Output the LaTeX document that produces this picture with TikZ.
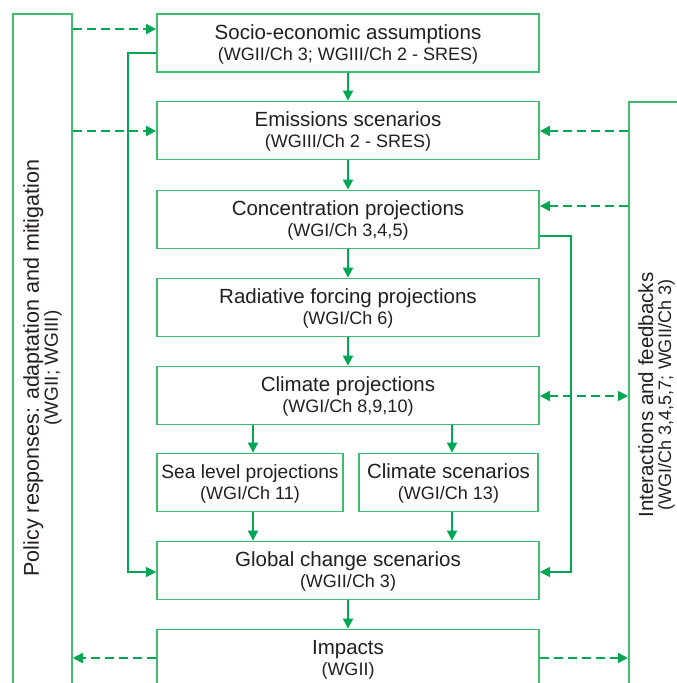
\documentclass[tikz,border=0pt]{standalone}
\usepackage{fontspec}
\setmainfont{Liberation Sans}
\usetikzlibrary{arrows.meta}
\definecolor{boxgreen}{RGB}{64,186,112}
\definecolor{arrgreen}{RGB}{0,166,81}
\definecolor{txt}{RGB}{35,31,32}
\newcommand{\titlesz}{\fontsize{20.5}{21}\selectfont}
\newcommand{\subsz}{\fontsize{18}{21}\selectfont}
\newcommand{\tstrut}{\rule{0pt}{17pt}}
\tikzset{
  box/.style={draw=boxgreen, line width=1.8pt, text=txt, align=center, inner sep=0pt,
    minimum height=58pt, font=\titlesz},
  mainbox/.style={box, minimum width=382pt},
  sidebox/.style={draw=boxgreen, line width=1.8pt, anchor=north west, inner sep=0pt},
  sidetxt/.style={text=txt, align=center, rotate=90, inner sep=0pt},
  arr/.style={draw=arrgreen, line width=1.8pt, -{Triangle[length=10pt,width=10pt]}},
  darr/.style={arr, dash pattern=on 9pt off 5pt},
  dboth/.style={darr, {Triangle[length=10pt,width=10pt]}-{Triangle[length=10pt,width=10pt]}}
}
\begin{document}
\begin{tikzpicture}[x=1pt,y=-1pt]
\clip (0,0) rectangle (677,683);
\fill[white] (0,0) rectangle (677,683);
% side boxes
\node[sidebox, minimum width=59pt, minimum height=720pt] (policy) at (12,13) {};
\node[sidetxt, font=\fontsize{21.5}{19}\selectfont] (policytxt) at (42.5,368) {Policy responses: adaptation and mitigation\\\fontsize{19}{19}\selectfont (WGII; WGIII)};
\node[sidebox, minimum width=90pt, minimum height=720pt] (inter) at (628,101) {};
\node[sidetxt, font=\fontsize{20.5}{18}\selectfont] (intertxt) at (656.5,395) {Interactions and feedbacks\\\fontsize{18}{18}\selectfont (WGI/Ch 3,4,5,7; WGII/Ch 3)};
% main boxes
\node[mainbox] (socio) at (348,43) {\tstrut Socio-economic assumptions\\\subsz (WGII/Ch 3; WGIII/Ch 2 - SRES)};
\node[mainbox] (emis) at (348,130.5) {\tstrut Emissions scenarios\\\subsz (WGIII/Ch 2 - SRES)};
\node[mainbox] (conc) at (348,219.5) {\tstrut Concentration projections\\\subsz (WGI/Ch 3,4,5)};
\node[mainbox] (rad) at (348,307.5) {\tstrut Radiative forcing projections\\\subsz (WGI/Ch 6)};
\node[mainbox] (clim) at (348,395.5) {\tstrut Climate projections\\\subsz (WGI/Ch 8,9,10)};
\node[box, minimum width=186pt] (sea) at (250,482.5) {\tstrut\fontsize{19.2}{21}\selectfont Sea level projections\\\subsz (WGI/Ch 11)};
\node[box, minimum width=179pt] (cscen) at (448.5,482.5) {\tstrut Climate scenarios\\\subsz (WGI/Ch 13)};
\node[mainbox] (glob) at (348,570.5) {\tstrut Global change scenarios\\\subsz (WGII/Ch 3)};
\node[mainbox] (imp) at (348,658.5) {\tstrut Impacts\\\subsz (WGII)};
% helper coordinates
\coordinate (ya) at (0,29);
\coordinate (yb) at (0,131);
\coordinate (yc) at (0,206);
\coordinate (yd) at (0,396);
\coordinate (ye) at (0,658);
\coordinate (yf) at (0,53);
\coordinate (yg) at (0,572);
\coordinate (yh) at (0,236);
\coordinate (xl) at (128,0);
\coordinate (xr) at (571,0);
\coordinate (xs) at (253,0);
\coordinate (xt) at (452,0);
% main flow
\draw[arr] (socio) -- (emis);
\draw[arr] (emis) -- (conc);
\draw[arr] (conc) -- (rad);
\draw[arr] (rad) -- (clim);
\draw[arr] (clim.south -| xs) -- (sea.north -| xs);
\draw[arr] (clim.south -| xt) -- (cscen.north -| xt);
\draw[arr] (sea.south -| xs) -- (glob.north -| xs);
\draw[arr] (cscen.south -| xt) -- (glob.north -| xt);
\draw[arr] (glob) -- (imp);
% bypass lines
\draw[arr, line width=1.5pt] (socio.west |- yf) -- (xl |- yf) -- (xl |- yg) -- (glob.west |- yg);
\draw[arr, line width=1.5pt] (conc.east |- yh) -- (xr |- yh) -- (xr |- yg) -- (glob.east |- yg);
% dashed feedbacks
\draw[darr] (policy.east |- ya) -- (socio.west |- ya);
\draw[darr] (policy.east |- yb) -- (emis.west |- yb);
\draw[darr] (imp.west |- ye) -- (policy.east |- ye);
\draw[darr] (inter.west |- yb) -- (emis.east |- yb);
\draw[darr] (inter.west |- yc) -- (conc.east |- yc);
\draw[dboth] (clim.east |- yd) -- (inter.west |- yd);
\draw[darr] (imp.east |- ye) -- (inter.west |- ye);
\end{tikzpicture}
\end{document}
